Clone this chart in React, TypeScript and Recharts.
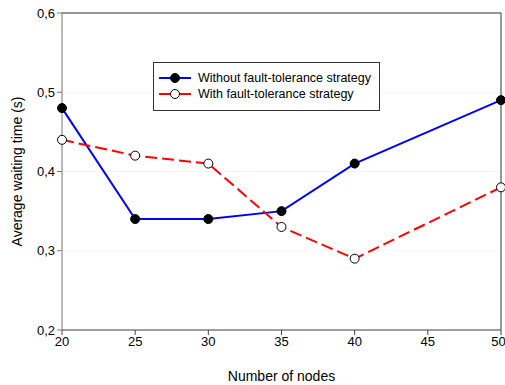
import React from "react"
import {
    LineChart,
    Line,
    XAxis,
    YAxis,
    CartesianGrid,
    ReferenceLine,
    Legend,
} from "recharts"

const nodes = [20, 25, 30, 35, 40, 50]
const withoutFT = [0.48, 0.34, 0.34, 0.35, 0.41, 0.49]
const withFT = [0.44, 0.42, 0.41, 0.33, 0.29, 0.38]
const xTicks = [20, 25, 30, 35, 40, 45, 50]
const yTicks = [0.2, 0.3, 0.4, 0.5, 0.6]

const seriesNames = ["Without fault-tolerance strategy", "With fault-tolerance strategy"]

const font = "'Liberation Sans', Arial, sans-serif"

const data = nodes.map((n, i) => ({
    nodes: n,
    without: withoutFT[i],
    with: withFT[i],
}))

const fmt = (v: number) => v.toFixed(1).replace(".", ",")

const LegendBox = () => (
    <div
        style={{
            border: "1px solid #333",
            background: "#fff",
            padding: "7px 8px 8px 4px",
            fontFamily: font,
            fontSize: 12.5,
            color: "#000",
            lineHeight: "16px",
            display: "inline-block",
        }}
    >
        {[
            { name: seriesNames[0], color: "#0000ff", fill: "#000" },
            { name: seriesNames[1], color: "#ff0000", fill: "#fff" },
        ].map((it) => (
            <div key={it.name} style={{ display: "flex", alignItems: "center" }}>
                <svg width={34} height={12} style={{ marginRight: 6, flexShrink: 0 }}>
                    <line x1={1} y1={6} x2={33} y2={6} stroke={it.color} strokeWidth={2} />
                    <circle cx={17} cy={6} r={4.5} fill={it.fill} stroke="#000" strokeWidth={1} />
                </svg>
                <span style={{ whiteSpace: "nowrap" }}>{it.name}</span>
            </div>
        ))}
    </div>
)

export default function App() {
    return (
        <div style={{ position: "absolute", left: 0, top: 0, background: "#fff" }}>
            <LineChart
                width={505}
                height={385}
                data={data}
                margin={{ top: 13, right: 4, left: 0, bottom: 0 }}
            >
                <CartesianGrid vertical={false} stroke="#f4f4f4" />
                <XAxis
                    dataKey="nodes"
                    type="number"
                    domain={[20, 50]}
                    ticks={xTicks}
                    height={55}
                    tickSize={5}
                    stroke="#444"
                    tick={{ fontSize: 13, fill: "#000", fontFamily: font }}
                    label={{
                        value: "Number of nodes",
                        position: "insideBottom",
                        offset: 4,
                        fontSize: 14,
                        fill: "#000",
                        fontFamily: font,
                    }}
                />
                <YAxis
                    domain={[0.2, 0.6]}
                    ticks={yTicks}
                    width={62}
                    tickSize={5}
                    stroke="#777"
                    tickFormatter={fmt}
                    tick={{ fontSize: 13, fill: "#000", fontFamily: font }}
                    label={{
                        value: "Average waiting time (s)",
                        angle: -90,
                        position: "insideLeft",
                        offset: 17,
                        textAnchor: "middle",
                        fontSize: 14,
                        fill: "#000",
                        fontFamily: font,
                    }}
                />
                <ReferenceLine y={0.6} stroke="#333" />
                <ReferenceLine x={50} stroke="#333" />
                <Legend
                    layout="horizontal"
                    verticalAlign="middle"
                    align="center"
                    wrapperStyle={{ left: 153, top: 62, width: "auto" }}
                    content={() => <LegendBox />}
                />
                <Line
                    dataKey="without"
                    name={seriesNames[0]}
                    stroke="#0000ff"
                    strokeWidth={2}
                    dot={{ r: 4.5, fill: "#000", stroke: "#000", strokeWidth: 1 }}
                    isAnimationActive={false}
                />
                <Line
                    dataKey="with"
                    name={seriesNames[1]}
                    stroke="#ff0000"
                    strokeWidth={2}
                    strokeDasharray="12 5"
                    dot={{ r: 4.5, fill: "#fff", stroke: "#000", strokeWidth: 1, strokeDasharray: "" }}
                    isAnimationActive={false}
                />
            </LineChart>
        </div>
    )
}
